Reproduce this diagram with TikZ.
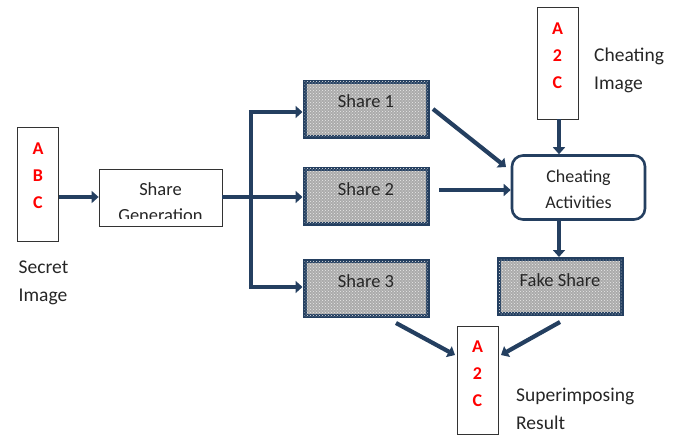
\documentclass[tikz,border=0pt]{standalone}
\usepackage{fontspec}
\setmainfont{Carlito}
\usetikzlibrary{arrows.meta,patterns}
\definecolor{navy}{HTML}{243F60}
\definecolor{txt}{HTML}{262626}
\definecolor{shgray}{HTML}{ABABAB}
\definecolor{lred}{HTML}{FF0000}
\tikzset{
  x=1pt, y=-1pt,
  every node/.style={font=\fontsize{18.5}{22}\selectfont, text=txt, inner sep=0pt},
  imgbox/.style={draw=black!80, line width=0.8pt, fill=white, minimum width=41pt, align=center},
  sharebox/.style={draw=navy, line width=4pt, fill=shgray, postaction={pattern=crosshatch dots, pattern color=white!75!shgray}, minimum width=123pt, minimum height=55pt},
  letters/.style={font=\bfseries\fontsize{18}{27}\selectfont, text=lred, align=center},
  conn/.style={draw=navy, line width=4.2pt, -{Triangle[length=7pt,width=12pt]}},
  bus/.style={draw=navy, line width=4.2pt},
  lbl/.style={align=left, anchor=west, font=\fontsize{19.5}{28}\selectfont}
}
\begin{document}
\begin{tikzpicture}
\useasboundingbox (0,0) rectangle (679,434);
% secret image
\node[imgbox, minimum height=114pt] (sec) at (38,184) {};
\node[letters] (secl) at (38,175.5) {A\\B\\C};
\node[lbl] (seclbl) at (18.5,282.5) {Secret\\Image};
% share generation
\node[draw=black!80, line width=0.8pt, fill=white, minimum width=123pt, minimum height=57pt,
  path picture={\clip ([yshift=7.5pt]path picture bounding box.south west) rectangle (path picture bounding box.north east);
  \node[align=center, font=\fontsize{18.5}{26}\selectfont] at ([yshift=-4.5pt]path picture bounding box.center) {Share\\Generation};}] (sg) at (160.5,197.5) {};
% shares
\node[sharebox] (s1) at (366,109) {\raisebox{16pt}{Share 1}};
\node[sharebox] (s2) at (366,196) {\raisebox{14pt}{Share 2}};
\node[sharebox] (s3) at (366,288.5) {\raisebox{14pt}{Share 3}};
% cheating image
\node[imgbox, minimum height=112pt] (ci) at (557.5,63) {};
\node[letters] (cil) at (557.5,55.5) {A\\2\\C};
\node[lbl] (cilbl) at (594,70.5) {Cheating\\Image};
% cheating activities
\node[draw=navy, line width=2.6pt, fill=white, rounded corners=11pt, minimum width=133pt, minimum height=64pt] (ca) at (578.5,187.5) {};
\node[align=center, font=\fontsize{18}{25.5}\selectfont] (catxt) at ([yshift=-2pt]ca.center) {Cheating\\Activities};
% fake share
\node[sharebox] (fs) at (560,286.5) {\raisebox{13pt}{Fake Share}};
% result
\node[imgbox, minimum height=108pt] (res) at (477.5,380) {};
\node[letters] (resl) at (477.5,374) {A\\2\\C};
\node[lbl] (reslbl) at (516,409) {Superimposing\\Result};
% bus
\coordinate (bx1) at (251,112);
\coordinate (bx3) at (251,287);
\coordinate (bx2) at (251,197);
\draw[conn] (sec.east |- 0,197) -- (sg.west |- 0,197);
\draw[bus] (sg.east |- 0,197) -- (bx2);
\draw[bus] (bx1) -- (bx3);
\draw[conn] ([xshift=-2.1pt]bx1) -- (s1.west |- bx1);
\draw[conn] (bx2) -- (s2.west |- bx2);
\draw[conn] ([xshift=-2.1pt]bx3) -- (s3.west |- bx3);
% right side arrows
\coordinate (s1o) at (433,109);
\coordinate (cai1) at (506,167);
\draw[conn] (s1o) -- (cai1);
\coordinate (s2o) at (439,190);
\draw[conn] (s2o) -- (ca.west |- s2o);
\draw[conn] (ci.south -| 559,0) -- (ca.north -| 559,0);
\draw[conn] (ca.south -| 559,0) -- (fs.north -| 559,0);
\coordinate (s3o) at (396,323);
\coordinate (resi1) at (455,355);
\draw[conn] (s3o) -- (resi1);
\coordinate (fso) at (560,322);
\coordinate (resi2) at (501,355);
\draw[conn] (fso) -- (resi2);
\end{tikzpicture}
\end{document}
